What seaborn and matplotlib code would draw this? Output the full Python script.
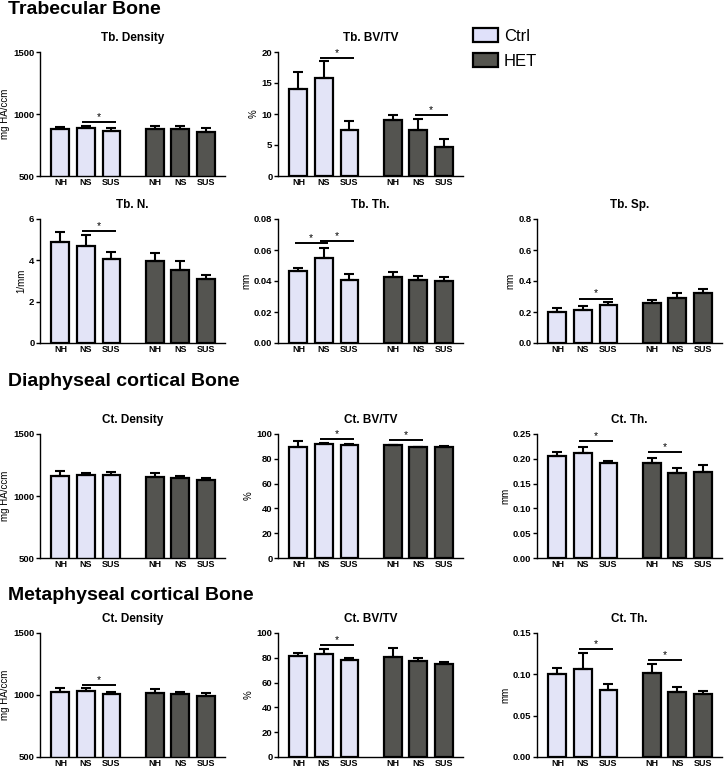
import pandas as pd
import matplotlib
matplotlib.use("Agg")
import matplotlib.pyplot as plt
from matplotlib.patches import Patch
import seaborn as sns

groups = ["Ctrl", "Ctrl", "Ctrl", "HET", "HET", "HET"]
conditions = ["NH", "NS", "SUS", "NH", "NS", "SUS"]
positions = [0, 1, 2, 3.7, 4.7, 5.7]

# bar means and top of the (upper-only) error bars, Ctrl NH/NS/SUS then HET NH/NS/SUS
tb_density_mean = [878, 889, 862, 878, 881, 851]
tb_density_top = [895, 903, 884, 905, 905, 889]
tb_bvtv_mean = [14.0, 15.8, 7.4, 9.0, 7.4, 4.7]
tb_bvtv_top = [16.7, 18.5, 8.9, 9.8, 9.2, 5.9]
tb_n_mean = [4.88, 4.69, 4.08, 3.95, 3.52, 3.08]
tb_n_top = [5.38, 5.22, 4.40, 4.37, 3.96, 3.27]
tb_th_mean = [0.0462, 0.0551, 0.0409, 0.0424, 0.0406, 0.0402]
tb_th_top = [0.0482, 0.0615, 0.0447, 0.0456, 0.0430, 0.0426]
tb_sp_mean = [0.203, 0.210, 0.246, 0.255, 0.289, 0.325]
tb_sp_top = [0.227, 0.240, 0.265, 0.280, 0.325, 0.349]

dia_density_mean = [1160, 1168, 1168, 1152, 1142, 1128]
dia_density_top = [1198, 1187, 1190, 1184, 1158, 1142]
dia_bvtv_mean = [89.5, 91.9, 91.1, 90.9, 89.2, 89.2]
dia_bvtv_top = [94.4, 92.7, 91.7, 91.4, 89.8, 90.0]
dia_th_mean = [0.206, 0.212, 0.191, 0.191, 0.172, 0.173]
dia_th_top = [0.213, 0.2245, 0.196, 0.2024, 0.181, 0.1877]

met_density_mean = [1027, 1032, 1008, 1016, 1005, 989]
met_density_top = [1059, 1053, 1027, 1048, 1024, 1016]
met_bvtv_mean = [81.8, 83.4, 78.6, 80.5, 77.8, 75.4]
met_bvtv_top = [84.2, 86.9, 80.2, 88.0, 79.7, 77.0]
met_th_mean = [0.0999, 0.1063, 0.081, 0.1019, 0.0786, 0.0758]
met_th_top = [0.1071, 0.1256, 0.0878, 0.1123, 0.0842, 0.0802]

# significance bars: (first bar, second bar, height)
tb_density_sig = [(1, 2, 938)]
tb_bvtv_sig = [(1, 2, 19.1), (4, 5, 9.9)]
tb_n_sig = [(1, 2, 5.43)]
tb_th_sig = [(0, 1, 0.0643), (1, 2, 0.0660)]
tb_sp_sig = [(1, 2, 0.287)]
dia_density_sig = []
dia_bvtv_sig = [(1, 2, 96.2), (3, 4, 95.2)]
dia_th_sig = [(1, 2, 0.2353), (3, 4, 0.2131)]
met_density_sig = [(1, 2, 1080)]
met_bvtv_sig = [(1, 2, 90.1)]
met_th_sig = [(1, 2, 0.1304), (3, 4, 0.1175)]

ctrl_color = "#E0E1FA"
het_color = "#55554F"

sns.set_theme(style="white")
plt.rcParams["font.family"] = ["Liberation Sans", "DejaVu Sans"]
plt.rcParams["text.color"] = "black"
plt.rcParams["axes.labelcolor"] = "black"
plt.rcParams["xtick.color"] = "black"
plt.rcParams["ytick.color"] = "black"

W, H = 725, 769
fig = plt.figure(figsize=(W / 100, H / 100), dpi=100)

col_left = [40, 278, 537]
row_top = [52, 219, 434, 633]
ax_w, ax_h = 185, 124

# (title, ylabel, means, tops, sig, ylim, yticks, fmt, row, col)
panels = [
    ("Tb. Density", "mg HA/ccm", tb_density_mean, tb_density_top, tb_density_sig,
     (500, 1500), [500, 1000, 1500], "{:.0f}", 0, 0),
    ("Tb. BV/TV", "%", tb_bvtv_mean, tb_bvtv_top, tb_bvtv_sig,
     (0, 20), [0, 5, 10, 15, 20], "{:.0f}", 0, 1),
    ("Tb. N.", "1/mm", tb_n_mean, tb_n_top, tb_n_sig,
     (0, 6), [0, 2, 4, 6], "{:.0f}", 1, 0),
    ("Tb. Th.", "mm", tb_th_mean, tb_th_top, tb_th_sig,
     (0, 0.08), [0, 0.02, 0.04, 0.06, 0.08], "{:.2f}", 1, 1),
    ("Tb. Sp.", "mm", tb_sp_mean, tb_sp_top, tb_sp_sig,
     (0, 0.8), [0, 0.2, 0.4, 0.6, 0.8], "{:.1f}", 1, 2),
    ("Ct. Density", "mg HA/ccm", dia_density_mean, dia_density_top, dia_density_sig,
     (500, 1500), [500, 1000, 1500], "{:.0f}", 2, 0),
    ("Ct. BV/TV", "%", dia_bvtv_mean, dia_bvtv_top, dia_bvtv_sig,
     (0, 100), [0, 20, 40, 60, 80, 100], "{:.0f}", 2, 1),
    ("Ct. Th.", "mm", dia_th_mean, dia_th_top, dia_th_sig,
     (0, 0.25), [0, 0.05, 0.10, 0.15, 0.20, 0.25], "{:.2f}", 2, 2),
    ("Ct. Density", "mg HA/ccm", met_density_mean, met_density_top, met_density_sig,
     (500, 1500), [500, 1000, 1500], "{:.0f}", 3, 0),
    ("Ct. BV/TV", "%", met_bvtv_mean, met_bvtv_top, met_bvtv_sig,
     (0, 100), [0, 20, 40, 60, 80, 100], "{:.0f}", 3, 1),
    ("Ct. Th.", "mm", met_th_mean, met_th_top, met_th_sig,
     (0, 0.15), [0, 0.05, 0.10, 0.15], "{:.2f}", 3, 2),
]

for title, ylabel, means, tops, sig, ylim, yticks, fmt, row, col in panels:
    L, T = col_left[col], row_top[row]
    ax = fig.add_axes([L / W, 1 - (T + ax_h) / H, ax_w / W, ax_h / H])
    df = pd.DataFrame({"pos": positions, "value": means, "group": groups})
    sns.barplot(data=df, x="pos", y="value", hue="group", native_scale=True,
                dodge=False, width=0.7, palette=[ctrl_color, het_color],
                edgecolor="black", linewidth=1.6, errorbar=None, legend=False, ax=ax)
    # upper error bars only
    up = [t - m for t, m in zip(tops, means)]
    ax.errorbar(positions, means, yerr=[[0] * 6, up], fmt="none", ecolor="black",
                elinewidth=1.5, capsize=3.5, capthick=1.5, zorder=3)
    for i, j, y in sig:
        ax.plot([positions[i] - 0.15, positions[j] + 0.17], [y, y], color="black",
                lw=1.4, solid_capstyle="butt", clip_on=False)
        ax.text((positions[i] + positions[j]) / 2, y, "*", ha="center", va="bottom",
                fontsize=7.5)
    ax.set_xlim(-0.8, 6.45)
    ax.set_ylim(*ylim)
    ax.set_yticks(yticks)
    ax.set_yticklabels([fmt.format(v) for v in yticks], fontsize=6.8, fontweight="bold")
    ax.set_xticks(positions)
    ax.set_xticklabels(conditions, fontsize=6.5, fontweight="bold")
    ax.tick_params(axis="x", length=0, pad=1.5)
    ax.tick_params(axis="y", length=3, width=1, pad=1, left=True, color="black")
    ax.set_xlabel("")
    ax.set_ylabel(ylabel, fontsize=7, labelpad=2)
    ax.set_title(title, fontsize=8.5, fontweight="bold", pad=8)
    sns.despine(ax=ax)
    for s in ["left", "bottom"]:
        ax.spines[s].set_color("black")
        ax.spines[s].set_linewidth(1.0)

fig.text(8 / W, 1 - 10 / H, "Trabecular Bone", fontsize=14, fontweight="bold", va="center")
fig.text(8 / W, 1 - 382 / H, "Diaphyseal cortical Bone", fontsize=14, fontweight="bold", va="center")
fig.text(8 / W, 1 - 595 / H, "Metaphyseal cortical Bone", fontsize=14, fontweight="bold", va="center")

handles = [Patch(facecolor=ctrl_color, edgecolor="black", linewidth=1.6),
           Patch(facecolor=het_color, edgecolor="black", linewidth=1.6)]
fig.legend(handles, ["Ctrl", "HET"], loc="upper left",
           bbox_to_anchor=(473 / W, 1 - 28 / H), frameon=False, fontsize=12,
           borderpad=0, borderaxespad=0,
           handlelength=1.5, handleheight=0.95, labelspacing=0.55, handletextpad=0.35)

fig.savefig("out.png", dpi=100)
